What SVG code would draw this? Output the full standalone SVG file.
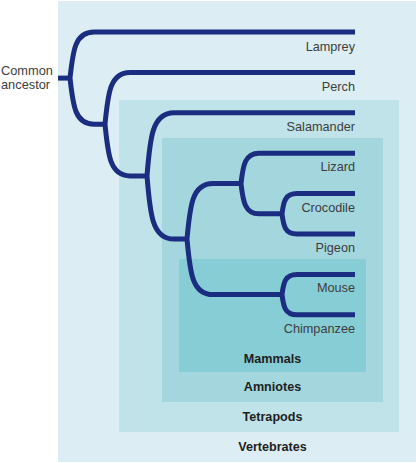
<svg xmlns="http://www.w3.org/2000/svg" width="418" height="463" viewBox="0 0 418 463">
<style>
.br{fill:none;stroke:#1b2d80;stroke-width:5;stroke-linejoin:round}
.leaf{font-family:"Liberation Sans",Arial,sans-serif;font-size:12.7px;fill:#3d3d3d;text-anchor:end}
.grp{font-family:"Liberation Sans",Arial,sans-serif;font-size:12.6px;font-weight:bold;fill:#1e1e1e;text-anchor:middle}
.anc{font-family:"Liberation Sans",Arial,sans-serif;font-size:12.8px;fill:#3d3d3d}
</style>
<rect width="418" height="463" fill="#ffffff"/>
<g id="vertebrates"><rect x="58" y="1" width="358" height="461" fill="#dceef3"/><text class="grp" x="272.5" y="451">Vertebrates</text></g>
<g id="tetrapods"><rect x="119" y="100" width="280" height="332" fill="#c0e3e9"/><text class="grp" x="272.5" y="421">Tetrapods</text></g>
<g id="amniotes"><rect x="162" y="138" width="221" height="264" fill="#a3d6dd"/><text class="grp" x="272.5" y="391">Amniotes</text></g>
<g id="mammals"><rect x="179" y="259" width="187" height="113" fill="#86cdd5"/><text class="grp" x="272.5" y="363">Mammals</text></g>
<g id="connectors">
<path class="br" d="M58,78.1 L71,78.1"/>
<path class="br" d="M94,32 C75,32 73,50.4 70,78.1 C73,105.8 75,124.2 94,124.2 L106,124.2 M355,32 L94,32"/>
<path class="br" d="M355,72.4 L130,72.4 C110,72.4 108,93.1 105,124.2 C108,155.2 110,175.9 130,175.9 L148,175.9"/>
<path class="br" d="M355,112.8 L174,112.8 C152,112.8 150,138 147,175.9 C150,213.8 152,239 174,239 L188,239"/>
<path class="br" d="M242,183.5 L213,183.5 C192,183.5 190,205.7 187,239 C190,272.4 192,294.6 213,294.6 L283,294.6"/>
<path class="br" d="M355,153.2 L259,153.2 C245,153.2 243,165.3 241,183.5 C243,201.7 245,213.8 259,213.8 L283,213.8"/>
<path class="br" d="M355,193.6 L297,193.6 C285,193.6 283.5,201.7 282,213.8 C283.5,226 285,234 297,234 L355,234"/>
<path class="br" d="M355,274.4 L297,274.4 C285,274.4 283.5,282.5 282,294.6 C283.5,306.7 285,314.8 297,314.8 L355,314.8"/>
</g>
<g id="common-ancestor"><text class="anc" x="1" y="74.5">Common</text><text class="anc" x="1" y="88.5">ancestor</text></g>
<g id="lamprey"><text class="leaf" x="355" y="50.5">Lamprey</text></g>
<g id="perch"><text class="leaf" x="355" y="90.8">Perch</text></g>
<g id="salamander"><text class="leaf" x="355" y="131">Salamander</text></g>
<g id="lizard"><text class="leaf" x="355" y="171.3">Lizard</text></g>
<g id="crocodile"><text class="leaf" x="355" y="211.6">Crocodile</text></g>
<g id="pigeon"><text class="leaf" x="355" y="252">Pigeon</text></g>
<g id="mouse"><text class="leaf" x="355" y="292.4">Mouse</text></g>
<g id="chimpanzee"><text class="leaf" x="355" y="332.8">Chimpanzee</text></g>
</svg>
